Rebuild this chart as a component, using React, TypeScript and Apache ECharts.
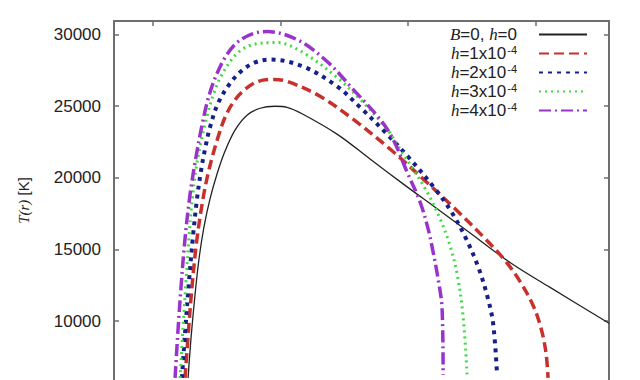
import React, { useEffect, useRef } from "react";
import * as echarts from "echarts";

// r (arbitrary axis units), T(r) [K]
const curveB0: [number, number][] = [
  [12.75, 6022], [12.98, 8803], [13.29, 11791], [13.61, 14362], [14.0, 16586],
  [14.47, 18532], [15.02, 20270], [15.65, 21868], [16.43, 23328], [17.37, 24370],
  [18.39, 24857], [19.57, 24996], [20.51, 24926], [21.76, 24440], [24.43, 23050],
  [27.02, 21313], [29.61, 19575], [31.96, 18046], [34.63, 16309], [38.0, 14085],
  [41.14, 12347], [45.76, 9845],
];
const curveH1: [number, number][] = [
  [12.51, 6022], [12.75, 8941], [13.06, 12416], [13.45, 15752], [13.92, 18532],
  [14.31, 20270], [14.71, 21660], [15.1, 22841], [15.65, 24231], [16.35, 25344],
  [17.22, 26178], [18.24, 26734], [19.41, 26873], [20.51, 26734], [23.1, 25691],
  [25.69, 24093], [28.59, 22008], [31.18, 19922], [33.69, 17837], [36.04, 15752],
  [37.61, 14223], [38.78, 12764], [39.8, 11096], [40.43, 9497], [40.82, 7760],
  [40.98, 6022],
];
const curveH2: [number, number][] = [
  [12.27, 6022], [12.51, 9150], [12.82, 12764], [13.14, 15961], [13.45, 18532],
  [13.76, 20478], [14.08, 22008], [14.47, 23536], [15.1, 25204], [16.04, 26594],
  [16.98, 27498], [18.0, 28054], [19.18, 28263], [21.76, 27776], [24.43, 26386],
  [26.24, 24926], [28.2, 23189], [30.16, 21313], [32.12, 19228], [33.45, 17559],
  [34.55, 15752], [35.49, 13806], [36.2, 11791], [36.67, 9845], [36.98, 6231],
];
const curveH3: [number, number][] = [
  [12.12, 6022], [12.35, 9497], [12.59, 12833], [12.82, 15891], [13.06, 18324],
  [13.37, 20617], [13.76, 22494], [14.24, 24301], [14.71, 25760], [15.41, 27220],
  [16.59, 28679], [17.84, 29305], [19.73, 29444], [21.76, 28749], [24.43, 27012],
  [26.24, 25483], [28.35, 23398], [29.37, 22008], [30.39, 20617], [31.49, 19019],
  [32.51, 17143], [33.29, 15266], [33.84, 13320], [34.31, 10401], [34.63, 6231],
];
const curveH4: [number, number][] = [
  [11.73, 6022], [11.96, 9358], [12.2, 12416], [12.51, 15752], [12.9, 18810],
  [13.37, 21451], [13.84, 23675], [14.31, 25483], [14.86, 26942], [15.65, 28401],
  [16.59, 29444], [17.84, 30069], [18.94, 30209], [21.29, 29652], [23.65, 28124],
  [25.69, 26178], [27.8, 24093], [28.82, 22702], [29.92, 20409], [30.94, 18324],
  [31.57, 16448], [31.96, 14849], [32.35, 12972], [32.67, 10888], [32.75, 6231],
];

const seriesNames = ["B=0, h=0", "h=1x10^-4", "h=2x10^-4", "h=3x10^-4", "h=4x10^-4"];
const yTicks = [10000, 15000, 20000, 25000, 30000];
const xTicks = [10, 20, 30, 40];

const frame = "#6e6e6e";

export default function App() {
  const ref = useRef<HTMLDivElement>(null);
  useEffect(() => {
    if (!ref.current) return;
    const chart = echarts.init(ref.current, undefined, { renderer: "svg" });
    const mk = (
      name: string,
      data: [number, number][],
      color: string,
      width: number,
      type: any
    ) => ({
      name,
      type: "line",
      data,
      showSymbol: false,
      symbol: "none",
      smooth: 0.35,
      clip: true,
      lineStyle: { color, width, type },
      itemStyle: { color },
    });
    const yCommon = {
      type: "value",
      min: 5880,
      max: 30950,
      splitLine: { show: false },
      axisLine: { show: true, lineStyle: { color: frame, width: 2 } },
      axisTick: {
        show: true,
        inside: true,
        length: 5,
        customValues: yTicks,
        lineStyle: { color: frame, width: 1.5 },
      },
    };
    chart.setOption({
      animation: false,
      backgroundColor: "#ffffff",
      grid: { left: 114, right: 31, top: 21, bottom: -2 },
      xAxis: {
        type: "value",
        position: "top",
        min: 6.94,
        max: 45.76,
        splitLine: { show: false },
        axisLine: { show: true, lineStyle: { color: frame, width: 2 } },
        axisTick: {
          show: true,
          inside: true,
          length: 5,
          customValues: xTicks,
          lineStyle: { color: frame, width: 1.5 },
        },
        axisLabel: { show: false },
      },
      yAxis: [
        {
          ...yCommon,
          position: "left",
          name: "{i|T(r)} [K]",
          nameLocation: "middle",
          nameGap: 83,
          nameRotate: 90,
          nameTextStyle: {
            fontFamily: "Liberation Sans",
            fontSize: 15,
            color: "#222",
            rich: {
              i: { fontFamily: "Liberation Serif", fontStyle: "italic", fontSize: 15, color: "#222" },
            },
          },
          axisLabel: {
            show: true,
            customValues: yTicks,
            margin: 13,
            fontFamily: "Liberation Sans",
            fontSize: 17,
            color: "#222",
            formatter: (v: number) => String(v),
          },
        },
        {
          ...yCommon,
          position: "right",
          axisLabel: { show: false },
        },
      ],
      legend: {
        orient: "vertical",
        right: 52,
        top: 26,
        align: "right",
        itemWidth: 48,
        itemHeight: 10,
        itemGap: 1,
        padding: 0,
        itemStyle: { opacity: 0 },
        data: seriesNames,
        formatter: (n: string) => {
          if (n.startsWith("B")) return "{i|B}=0, {i|h}=0";
          const m = n.match(/h=(\d)x10\^-4/);
          return "{i|h}=" + (m ? m[1] : "") + "x10{s|-4}";
        },
        textStyle: {
          fontFamily: "Liberation Sans",
          fontSize: 17,
          color: "#222",
          padding: [0, 17, 0, 0],
          rich: {
            i: { fontFamily: "Liberation Serif", fontStyle: "italic", fontSize: 17, color: "#222" },
            s: { fontFamily: "Liberation Sans", fontSize: 11, color: "#222", verticalAlign: "top", padding: [0, 0, 8, 1] },
          },
        },
      },
      series: [
        mk(seriesNames[0], curveB0, "#222222", 1.3, "solid"),
        mk(seriesNames[1], curveH1, "#c8302c", 3.5, [10, 5]),
        mk(seriesNames[2], curveH2, "#16208a", 4, [4, 5]),
        mk(seriesNames[3], curveH3, "#3ddc3d", 3, [2, 4]),
        mk(seriesNames[4], curveH4, "#9933cc", 3.5, [12, 4, 2, 4]),
      ],
    });
    return () => chart.dispose();
  }, []);
  return <div ref={ref} style={{ width: 640, height: 380, position: "absolute", left: 0, top: 0 }} />;
}
